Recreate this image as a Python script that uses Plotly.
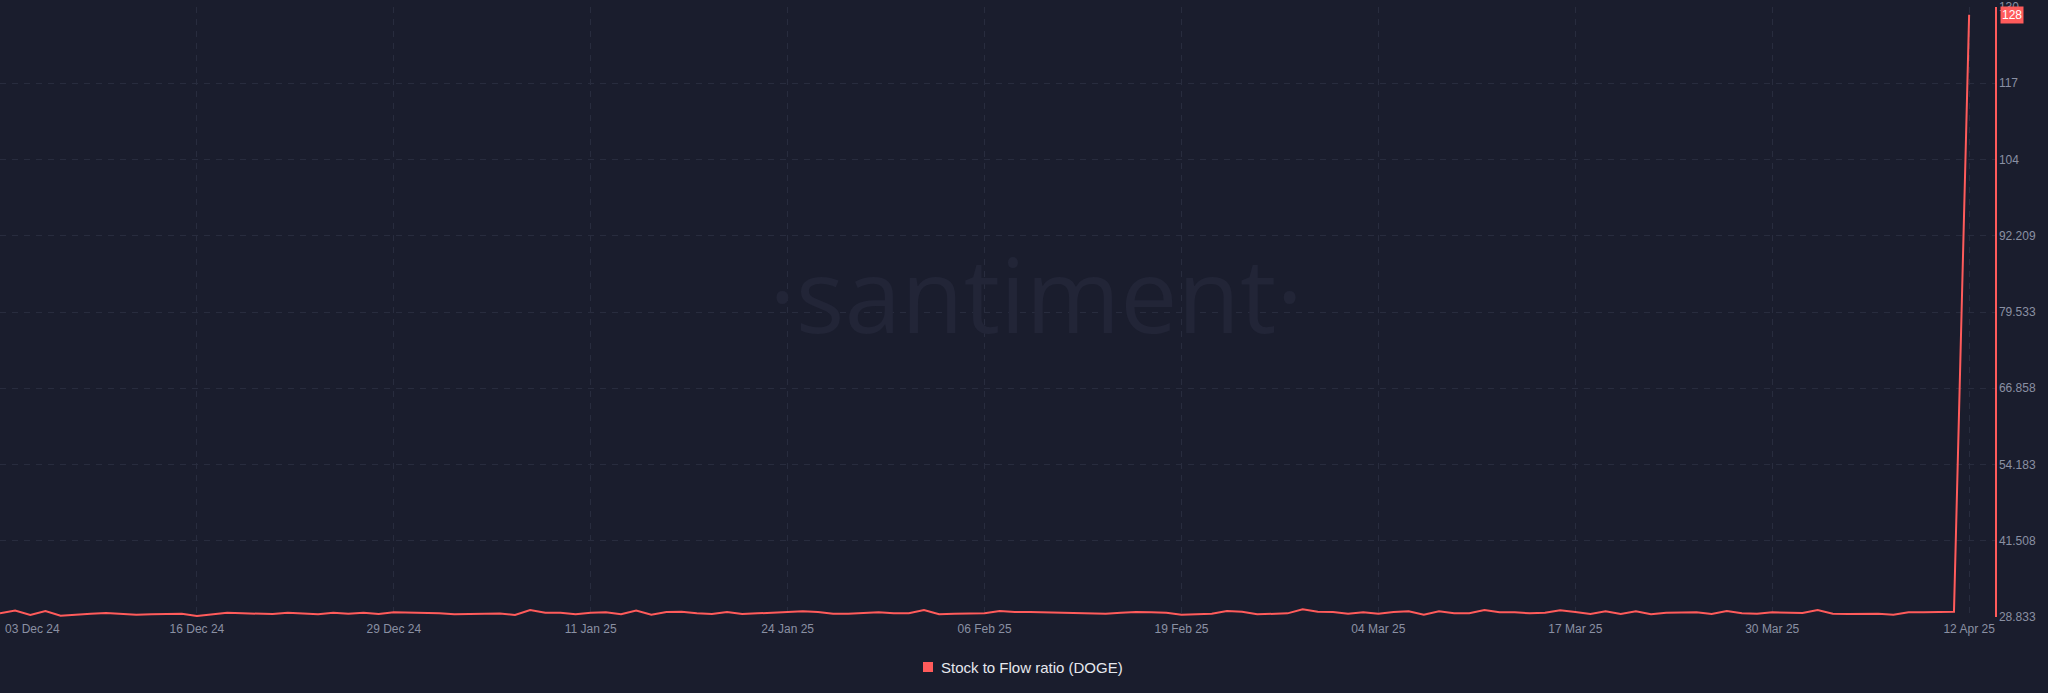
import plotly.graph_objects as go
import pandas as pd

# ---- data ----
start_date = "2024-12-03"
end_date = "2025-04-12"
sf_ratio = [
    29.44, 29.89, 29.17, 29.83, 29.06, 29.28, 29.39, 29.50, 29.33, 29.22,
    29.28, 29.39, 29.39, 29.00, 29.28, 29.55, 29.44, 29.44, 29.33, 29.55,
    29.44, 29.28, 29.55, 29.39, 29.55, 29.33, 29.61, 29.55, 29.55, 29.44,
    29.28, 29.33, 29.39, 29.42, 29.17, 30.00, 29.55, 29.55, 29.28, 29.55,
    29.61, 29.28, 29.89, 29.22, 29.66, 29.72, 29.44, 29.33, 29.66, 29.33,
    29.44, 29.55, 29.55, 29.78, 29.66, 29.39, 29.39, 29.44, 29.61, 29.44,
    29.44, 30.00, 29.28, 29.39, 29.44, 29.44, 29.83, 29.66, 29.66, 29.61,
    29.50, 29.44, 29.44, 29.39, 29.55, 29.66, 29.61, 29.55, 29.22, 29.28,
    29.39, 29.83, 29.72, 29.28, 29.33, 29.44, 30.11, 29.72, 29.66, 29.39,
    29.61, 29.39, 29.66, 29.78, 29.22, 29.78, 29.44, 29.44, 30.00, 29.61,
    29.61, 29.44, 29.55, 29.94, 29.66, 29.33, 29.78, 29.33, 29.78, 29.28,
    29.55, 29.61, 29.61, 29.33, 29.83, 29.44, 29.39, 29.61, 29.55, 29.50,
    30.00, 29.39, 29.33, 29.39, 29.39, 29.22, 29.61, 29.61, 29.72, 29.72,
    128.95,
]
dates = pd.date_range(start_date, end_date, freq="D")

series_name = "Stock to Flow ratio (DOGE)"
last_label = "128"

x_tick_dates = ["2024-12-16", "2024-12-29", "2025-01-11", "2025-01-24",
                "2025-02-06", "2025-02-19", "2025-03-04", "2025-03-17",
                "2025-03-30", "2025-04-12"]
x_tick_text = ["16 Dec 24", "29 Dec 24", "11 Jan 25", "24 Jan 25",
               "06 Feb 25", "19 Feb 25", "04 Mar 25", "17 Mar 25",
               "30 Mar 25", "12 Apr 25"]
first_tick_date = "2024-12-03"
first_tick_text = "03 Dec 24"

y_tick_vals = [28.833, 41.508, 54.183, 66.858, 79.533, 92.209, 104.884, 117.559, 130.234]
y_tick_text = ["28.833", "41.508", "54.183", "66.858", "79.533", "92.209", "104", "117", "130"]

# ---- styling ----
BG = "#1a1d2d"
RED = "#ff5b5b"
GRID = "#282c3e"
TICK = "#8a90a3"
FONT = "Liberation Sans, Arial, sans-serif"

fig = go.Figure()
fig.add_trace(go.Scatter(
    x=dates, y=sf_ratio, mode="lines", name=series_name,
    line=dict(color=RED, width=2),
    showlegend=False, hoverinfo="skip",
))

fig.update_layout(
    width=2048, height=693,
    paper_bgcolor=BG, plot_bgcolor=BG,
    margin=dict(l=0, r=53, t=7, b=76),
    font=dict(family=FONT, size=12, color=TICK),
    showlegend=False,
    xaxis=dict(
        type="date",
        range=["2024-12-03 00:00", "2025-04-13 17:00"],
        tickmode="array",
        tickvals=[first_tick_date] + x_tick_dates,
        ticktext=[""] + x_tick_text,
        showgrid=True, gridcolor=GRID, griddash="6px,6px", gridwidth=1,
        showline=False, zeroline=False, ticks="",
        ticklabelstandoff=3,
        tickfont=dict(family=FONT, size=12, color=TICK),
        fixedrange=True,
    ),
    yaxis=dict(
        side="right",
        range=[28.833, 130.234],
        tickmode="array", tickvals=y_tick_vals, ticktext=y_tick_text,
        showgrid=True, gridcolor=GRID, griddash="6px,6px", gridwidth=1,
        showline=True, linecolor=RED, linewidth=1.5,
        zeroline=False, ticks="",
        tickfont=dict(family=FONT, size=12, color=TICK),
        fixedrange=True,
    ),
)

# watermark
fig.add_annotation(
    text="·santiment·", xref="paper", yref="paper", x=0.5195, y=0.53,
    showarrow=False, font=dict(family="Open Sans, sans-serif", size=102, color="#222537"),
)

# first x tick label, kept inside the plot
fig.add_annotation(
    text=first_tick_text, xref="x", yref="paper", x=first_tick_date, y=0,
    yanchor="top", xanchor="left", xshift=3, yshift=-3, showarrow=False,
    font=dict(family=FONT, size=12, color=TICK),
)

# last-value badge on the right axis
fig.add_annotation(
    text=last_label, xref="paper", yref="y", x=1, y=sf_ratio[-1],
    xanchor="left", xshift=5, showarrow=False,
    font=dict(family=FONT, size=12, color="#ffffff"),
    bgcolor=RED, borderpad=1,
)

# legend: square swatch + series name, centred under the plot
fig.add_shape(
    type="rect", xref="paper", yref="paper",
    x0=923 / 1995, x1=933 / 1995, y0=-(667 + 5 - 617) / 610, y1=-(667 - 5 - 617) / 610,
    fillcolor=RED, line=dict(width=0),
)
fig.add_annotation(
    text=series_name, xref="paper", yref="paper", x=939 / 1995, y=-(667 - 617) / 610,
    xanchor="left", yanchor="middle", showarrow=False,
    font=dict(family=FONT, size=15, color="#e6e8ee"),
)

fig.write_html(
    "out.html",
    config={"displayModeBar": False, "staticPlot": True},
    post_script="document.body.style.margin='0';document.body.style.overflow='hidden';",
)
